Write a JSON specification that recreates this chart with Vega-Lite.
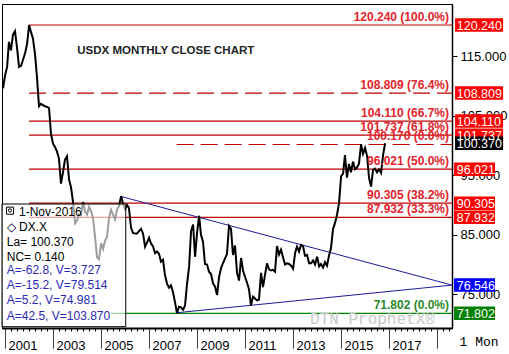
{
  "$schema": "https://vega.github.io/schema/vega-lite/v6.json",
  "width": 450,
  "height": 324,
  "autosize": {"type": "none"},
  "padding": {"left": 2, "top": 4, "right": 57, "bottom": 26},
  "background": "white",
  "config": {"view": {"stroke": "black", "strokeWidth": 1}},
  "datasets": {
    "close": [
      {"date": "2000-12-01", "close": 109.6},
      {"date": "2001-01-01", "close": 111.8}, {"date": "2001-02-01", "close": 113.2}, {"date": "2001-03-01", "close": 117.4}, {"date": "2001-04-01", "close": 116.0},
      {"date": "2001-05-01", "close": 118.6}, {"date": "2001-06-01", "close": 119.2}, {"date": "2001-07-01", "close": 116.5}, {"date": "2001-08-01", "close": 113.2},
      {"date": "2001-09-01", "close": 113.4}, {"date": "2001-10-01", "close": 114.4}, {"date": "2001-11-01", "close": 115.5}, {"date": "2001-12-01", "close": 117.0},
      {"date": "2002-01-01", "close": 120.24}, {"date": "2002-02-01", "close": 119.0}, {"date": "2002-03-01", "close": 118.0}, {"date": "2002-04-01", "close": 115.4},
      {"date": "2002-05-01", "close": 111.5}, {"date": "2002-06-01", "close": 106.6}, {"date": "2002-07-01", "close": 107.0}, {"date": "2002-08-01", "close": 106.8},
      {"date": "2002-09-01", "close": 106.6}, {"date": "2002-10-01", "close": 106.5}, {"date": "2002-11-01", "close": 106.3}, {"date": "2002-12-01", "close": 101.9},
      {"date": "2003-01-01", "close": 100.3}, {"date": "2003-02-01", "close": 99.7}, {"date": "2003-03-01", "close": 99.0}, {"date": "2003-04-01", "close": 97.8},
      {"date": "2003-05-01", "close": 93.6}, {"date": "2003-06-01", "close": 95.5}, {"date": "2003-07-01", "close": 97.6}, {"date": "2003-08-01", "close": 98.2},
      {"date": "2003-09-01", "close": 94.3}, {"date": "2003-10-01", "close": 93.0}, {"date": "2003-11-01", "close": 90.5}, {"date": "2003-12-01", "close": 86.9},
      {"date": "2004-01-01", "close": 87.4}, {"date": "2004-02-01", "close": 88.4}, {"date": "2004-03-01", "close": 88.3}, {"date": "2004-04-01", "close": 90.5},
      {"date": "2004-05-01", "close": 88.9}, {"date": "2004-06-01", "close": 88.4}, {"date": "2004-07-01", "close": 89.7}, {"date": "2004-08-01", "close": 89.0},
      {"date": "2004-09-01", "close": 87.8}, {"date": "2004-10-01", "close": 84.6}, {"date": "2004-11-01", "close": 81.2}, {"date": "2004-12-01", "close": 80.9},
      {"date": "2005-01-01", "close": 83.6}, {"date": "2005-02-01", "close": 82.6}, {"date": "2005-03-01", "close": 84.0}, {"date": "2005-04-01", "close": 84.6},
      {"date": "2005-05-01", "close": 87.8}, {"date": "2005-06-01", "close": 89.2}, {"date": "2005-07-01", "close": 88.4}, {"date": "2005-08-01", "close": 87.6},
      {"date": "2005-09-01", "close": 89.3}, {"date": "2005-10-01", "close": 89.8}, {"date": "2005-11-01", "close": 91.5}, {"date": "2005-12-01", "close": 90.2},
      {"date": "2006-01-01", "close": 89.3}, {"date": "2006-02-01", "close": 90.0}, {"date": "2006-03-01", "close": 89.5}, {"date": "2006-04-01", "close": 86.2},
      {"date": "2006-05-01", "close": 85.3}, {"date": "2006-06-01", "close": 85.2}, {"date": "2006-07-01", "close": 85.2}, {"date": "2006-08-01", "close": 85.6},
      {"date": "2006-09-01", "close": 86.0}, {"date": "2006-10-01", "close": 85.2}, {"date": "2006-11-01", "close": 83.0}, {"date": "2006-12-01", "close": 83.7},
      {"date": "2007-01-01", "close": 84.5}, {"date": "2007-02-01", "close": 83.5}, {"date": "2007-03-01", "close": 83.1}, {"date": "2007-04-01", "close": 81.9},
      {"date": "2007-05-01", "close": 82.2}, {"date": "2007-06-01", "close": 81.8}, {"date": "2007-07-01", "close": 80.5}, {"date": "2007-08-01", "close": 80.8},
      {"date": "2007-09-01", "close": 78.2}, {"date": "2007-10-01", "close": 76.8}, {"date": "2007-11-01", "close": 76.1}, {"date": "2007-12-01", "close": 76.5},
      {"date": "2008-01-01", "close": 75.3}, {"date": "2008-02-01", "close": 73.6}, {"date": "2008-03-01", "close": 71.8}, {"date": "2008-04-01", "close": 72.9},
      {"date": "2008-05-01", "close": 72.8}, {"date": "2008-06-01", "close": 72.4}, {"date": "2008-07-01", "close": 73.1}, {"date": "2008-08-01", "close": 76.8},
      {"date": "2008-09-01", "close": 79.6}, {"date": "2008-10-01", "close": 85.6}, {"date": "2008-11-01", "close": 86.7}, {"date": "2008-12-01", "close": 81.3},
      {"date": "2009-01-01", "close": 85.4}, {"date": "2009-02-01", "close": 88.2}, {"date": "2009-03-01", "close": 85.0}, {"date": "2009-04-01", "close": 83.8},
      {"date": "2009-05-01", "close": 80.1}, {"date": "2009-06-01", "close": 80.0}, {"date": "2009-07-01", "close": 78.8}, {"date": "2009-08-01", "close": 78.4},
      {"date": "2009-09-01", "close": 76.8}, {"date": "2009-10-01", "close": 76.3}, {"date": "2009-11-01", "close": 74.9}, {"date": "2009-12-01", "close": 77.9},
      {"date": "2010-01-01", "close": 79.4}, {"date": "2010-02-01", "close": 80.3}, {"date": "2010-03-01", "close": 81.0}, {"date": "2010-04-01", "close": 81.8},
      {"date": "2010-05-01", "close": 86.5}, {"date": "2010-06-01", "close": 86.0}, {"date": "2010-07-01", "close": 81.6}, {"date": "2010-08-01", "close": 83.2},
      {"date": "2010-09-01", "close": 78.6}, {"date": "2010-10-01", "close": 77.3}, {"date": "2010-11-01", "close": 81.1}, {"date": "2010-12-01", "close": 79.0},
      {"date": "2011-01-01", "close": 77.9}, {"date": "2011-02-01", "close": 76.9}, {"date": "2011-03-01", "close": 75.9}, {"date": "2011-04-01", "close": 73.1},
      {"date": "2011-05-01", "close": 74.6}, {"date": "2011-06-01", "close": 74.3}, {"date": "2011-07-01", "close": 74.0}, {"date": "2011-08-01", "close": 74.1},
      {"date": "2011-09-01", "close": 78.6}, {"date": "2011-10-01", "close": 76.2}, {"date": "2011-11-01", "close": 78.3}, {"date": "2011-12-01", "close": 80.2},
      {"date": "2012-01-01", "close": 79.2}, {"date": "2012-02-01", "close": 79.0}, {"date": "2012-03-01", "close": 79.1}, {"date": "2012-04-01", "close": 78.8},
      {"date": "2012-05-01", "close": 83.1}, {"date": "2012-06-01", "close": 81.7}, {"date": "2012-07-01", "close": 82.5}, {"date": "2012-08-01", "close": 81.2},
      {"date": "2012-09-01", "close": 80.0}, {"date": "2012-10-01", "close": 80.2}, {"date": "2012-11-01", "close": 80.1}, {"date": "2012-12-01", "close": 79.8},
      {"date": "2013-01-01", "close": 79.3}, {"date": "2013-02-01", "close": 82.0}, {"date": "2013-03-01", "close": 83.0}, {"date": "2013-04-01", "close": 82.2},
      {"date": "2013-05-01", "close": 83.3}, {"date": "2013-06-01", "close": 83.1}, {"date": "2013-07-01", "close": 81.5}, {"date": "2013-08-01", "close": 81.6},
      {"date": "2013-09-01", "close": 80.2}, {"date": "2013-10-01", "close": 80.2}, {"date": "2013-11-01", "close": 80.7}, {"date": "2013-12-01", "close": 80.0},
      {"date": "2014-01-01", "close": 81.3}, {"date": "2014-02-01", "close": 79.7}, {"date": "2014-03-01", "close": 80.1}, {"date": "2014-04-01", "close": 79.5},
      {"date": "2014-05-01", "close": 80.4}, {"date": "2014-06-01", "close": 79.8}, {"date": "2014-07-01", "close": 81.5}, {"date": "2014-08-01", "close": 82.8},
      {"date": "2014-09-01", "close": 86.0}, {"date": "2014-10-01", "close": 87.0}, {"date": "2014-11-01", "close": 88.4}, {"date": "2014-12-01", "close": 90.3},
      {"date": "2015-01-01", "close": 94.8}, {"date": "2015-02-01", "close": 95.3}, {"date": "2015-03-01", "close": 98.4}, {"date": "2015-04-01", "close": 94.6},
      {"date": "2015-05-01", "close": 96.9}, {"date": "2015-06-01", "close": 95.5}, {"date": "2015-07-01", "close": 97.3}, {"date": "2015-08-01", "close": 96.0},
      {"date": "2015-09-01", "close": 96.3}, {"date": "2015-10-01", "close": 97.0}, {"date": "2015-11-01", "close": 100.2}, {"date": "2015-12-01", "close": 98.6},
      {"date": "2016-01-01", "close": 99.6}, {"date": "2016-02-01", "close": 98.2}, {"date": "2016-03-01", "close": 94.6}, {"date": "2016-04-01", "close": 93.1},
      {"date": "2016-05-01", "close": 95.9}, {"date": "2016-06-01", "close": 96.1}, {"date": "2016-07-01", "close": 95.5}, {"date": "2016-08-01", "close": 96.0},
      {"date": "2016-09-01", "close": 95.4}, {"date": "2016-10-01", "close": 98.4}, {"date": "2016-11-01", "close": 100.37}
    ],
    "fibSolid": [
      {"from": "2002-01-01", "level": 120.24, "label": "120.240 (100.0%)"},
      {"from": "2002-01-01", "level": 104.11, "label": "104.110 (66.7%)"},
      {"from": "2002-01-01", "level": 101.737, "label": "101.737 (61.8%)"},
      {"from": "2002-01-01", "level": 96.021, "label": "96.021 (50.0%)"},
      {"from": "2002-01-01", "level": 90.305, "label": "90.305 (38.2%)"},
      {"from": "2002-01-01", "level": 87.932, "label": "87.932 (33.3%)"}
    ],
    "fibDashed": [
      {"from": "2002-01-01", "level": 108.809, "label": "108.809 (76.4%)"},
      {"from": "2008-02-25", "level": 100.17, "label": "100.170 (0.0%)"}
    ],
    "fibLow": [
      {"from": "2005-06-01", "level": 71.802, "label": "71.802 (0.0%)"}
    ],
    "trend": [
      {"from": "2005-11-10", "fromValue": 91.4, "to": "2019-08-16", "toValue": 76.546},
      {"from": "2008-02-25", "fromValue": 71.9, "to": "2019-08-16", "toValue": 76.546}
    ],
    "tags": [
      {"value": 120.24, "text": "120.240", "kind": "fib"},
      {"value": 108.809, "text": "108.809", "kind": "fib"},
      {"value": 104.11, "text": "104.110", "kind": "fib"},
      {"value": 101.737, "text": "101.737", "kind": "fib"},
      {"value": 96.021, "text": "96.021", "kind": "fib"},
      {"value": 90.305, "text": "90.305", "kind": "fib"},
      {"value": 87.932, "text": "87.932", "kind": "fib"},
      {"value": 76.546, "text": "76.546", "kind": "trend"},
      {"value": 71.802, "text": "71.802", "kind": "low"},
      {"value": 100.37, "text": "100.370", "kind": "last"}
    ]
  },
  "layer": [
    {
      "data": {"name": "close"},
      "mark": {"type": "line", "color": "black", "strokeWidth": 2, "opacity": 0},
      "encoding": {
        "x": {
          "field": "date", "type": "temporal",
          "scale": {"type": "utc", "domain": [{"year": 2000, "month": 11, "date": 15, "utc": true}, {"year": 2019, "month": 8, "date": 16, "utc": true}], "nice": false},
          "axis": {
            "title": null, "grid": false, "orient": "bottom",
            "tickCount": {"interval": "month", "step": 3},
            "tickSize": 20, "tickColor": "black",
            "tickDash": {"condition": {"test": "utcmonth(datum.value)==0 && utcyear(datum.value)%2==1", "value": [1, 0]}, "value": [3, 40]},
            "labelExpr": "utcmonth(datum.value)==0 && utcyear(datum.value)%2==1 && utcyear(datum.value) < 2019 ? utcFormat(datum.value,'%Y') : ''",
            "labelAlign": "left", "labelOffset": 3, "labelPadding": -9, "labelOverlap": false,
            "labelFontSize": 13, "labelColor": "black", "labelFont": "Liberation Sans",
            "domainColor": "black", "domainWidth": 2
          }
        },
        "y": {
          "field": "close", "type": "quantitative",
          "scale": {"domain": [69.34, 123.77], "zero": false, "nice": false},
          "axis": {
            "title": null, "orient": "right", "grid": false,
            "values": [75, 80, 85, 90, 95, 100, 105, 110, 115, 120],
            "format": ".3f", "tickSize": 5, "tickColor": "black", "labelPadding": 3,
            "labelFontSize": 13, "labelColor": "black", "labelFont": "Liberation Sans",
            "domainColor": "black", "domainWidth": 1.5
          }
        }
      }
    },
    {
      "data": {"name": "fibSolid"},
      "mark": {"type": "rule", "color": "#c00000", "strokeWidth": 1.2},
      "encoding": {
        "x": {"field": "from", "type": "temporal"},
        "x2": {"datum": {"year": 2019, "month": 8, "date": 16, "utc": true}},
        "y": {"field": "level", "type": "quantitative"}
      }
    },
    {
      "data": {"name": "fibDashed"},
      "mark": {"type": "rule", "color": "#c00000", "strokeWidth": 1.2, "strokeDash": [17, 7]},
      "encoding": {
        "x": {"field": "from", "type": "temporal"},
        "x2": {"datum": {"year": 2019, "month": 8, "date": 16, "utc": true}},
        "y": {"field": "level", "type": "quantitative"}
      }
    },
    {
      "data": {"name": "fibLow"},
      "mark": {"type": "rule", "color": "#008000", "strokeWidth": 1.2},
      "encoding": {
        "x": {"field": "from", "type": "temporal"},
        "x2": {"datum": {"year": 2019, "month": 8, "date": 16, "utc": true}},
        "y": {"field": "level", "type": "quantitative"}
      }
    },
    {
      "data": {"name": "trend"},
      "mark": {"type": "rule", "color": "#1c1c9c", "strokeWidth": 1},
      "encoding": {
        "x": {"field": "from", "type": "temporal"},
        "x2": {"field": "to"},
        "y": {"field": "fromValue", "type": "quantitative"},
        "y2": {"field": "toValue"}
      }
    },
    {
      "data": {"name": "close"},
      "mark": {"type": "line", "color": "black", "strokeWidth": 2},
      "encoding": {
        "x": {"field": "date", "type": "temporal"},
        "y": {"field": "close", "type": "quantitative"}
      }
    },
    {
      "data": {"name": "fibSolid"},
      "mark": {"type": "text", "align": "right", "baseline": "alphabetic", "dy": -4, "fontSize": 12, "fontWeight": "bold", "color": "#e3242b", "font": "Liberation Sans"},
      "encoding": {
        "x": {"datum": {"year": 2019, "month": 7, "date": 2, "utc": true}},
        "y": {"field": "level", "type": "quantitative"},
        "text": {"field": "label"}
      }
    },
    {
      "data": {"name": "fibDashed"},
      "mark": {"type": "text", "align": "right", "baseline": "alphabetic", "dy": -4, "fontSize": 12, "fontWeight": "bold", "color": "#e3242b", "font": "Liberation Sans"},
      "encoding": {
        "x": {"datum": {"year": 2019, "month": 7, "date": 2, "utc": true}},
        "y": {"field": "level", "type": "quantitative"},
        "text": {"field": "label"}
      }
    },
    {
      "data": {"name": "fibLow"},
      "mark": {"type": "text", "align": "right", "baseline": "alphabetic", "dy": -4, "fontSize": 12, "fontWeight": "bold", "color": "#2a8a2a", "font": "Liberation Sans"},
      "encoding": {
        "x": {"datum": {"year": 2019, "month": 7, "date": 2, "utc": true}},
        "y": {"field": "level", "type": "quantitative"},
        "text": {"field": "label"}
      }
    },
    {
      "data": {"values": [{}]},
      "mark": {"type": "text", "align": "left", "baseline": "middle", "fontSize": 11.5, "fontWeight": "bold", "color": "#222222", "font": "Liberation Sans", "text": "USDX MONTHLY CLOSE CHART"},
      "encoding": {
        "x": {"datum": {"year": 2004, "month": 1, "date": 5, "utc": true}},
        "y": {"datum": 115.92}
      }
    },
    {
      "data": {"values": [{}]},
      "mark": {"type": "text", "align": "left", "baseline": "alphabetic", "fontSize": 16, "color": "#c8c8c8", "font": "Liberation Mono", "text": "DTN ProphetX®"},
      "encoding": {
        "x": {"datum": {"year": 2013, "month": 9, "date": 16, "utc": true}},
        "y": {"datum": 70.0}
      }
    },
    {
      "data": {"values": [{}]},
      "mark": {"type": "rect", "fill": "white", "fillOpacity": 0.62, "stroke": "black", "strokeWidth": 1},
      "encoding": {
        "x": {"datum": {"year": 2000, "month": 11, "date": 15, "utc": true}},
        "x2": {"datum": {"year": 2006, "month": 1, "date": 11, "utc": true}},
        "y": {"datum": 90.17},
        "y2": {"datum": 69.56}
      }
    },
    {
      "data": {"values": [{}]},
      "mark": {"type": "point", "shape": "square", "size": 50, "filled": false, "stroke": "black", "strokeWidth": 1, "opacity": 1},
      "encoding": {
        "x": {"datum": {"year": 2001, "month": 3, "date": 17, "utc": true}},
        "y": {"datum": 89.05}
      }
    },
    {
      "data": {"values": [{}]},
      "mark": {"type": "point", "shape": "circle", "size": 10, "filled": false, "stroke": "black", "strokeWidth": 1, "opacity": 1},
      "encoding": {
        "x": {"datum": {"year": 2001, "month": 3, "date": 17, "utc": true}},
        "y": {"datum": 89.1}
      }
    },
    {
      "data": {"values": [{}]},
      "mark": {"type": "text", "align": "left", "baseline": "middle", "fontSize": 12, "color": "black", "font": "Liberation Sans", "text": "1-Nov-2016"},
      "encoding": {
        "x": {"datum": {"year": 2001, "month": 8, "date": 1, "utc": true}},
        "y": {"datum": 88.877}
      }
    },
    {
      "data": {"values": [{}]},
      "mark": {"type": "text", "align": "left", "baseline": "middle", "fontSize": 12, "lineHeight": 15, "color": "black", "font": "Liberation Sans", "text": ["◇  DX.X", "La= 100.370", "NC= 0.140"]},
      "encoding": {
        "x": {"datum": {"year": 2001, "month": 1, "date": 26, "utc": true}},
        "y": {"datum": 86.358}
      }
    },
    {
      "data": {"values": [{}]},
      "mark": {"type": "text", "align": "left", "baseline": "middle", "fontSize": 12, "lineHeight": 15.2, "color": "#2a2ab4", "font": "Liberation Sans", "text": ["A=-62.8, V=3.727", "A=-15.2, V=79.514", "A=5.2, V=74.981", "A=42.5, V=103.870"]},
      "encoding": {
        "x": {"datum": {"year": 2001, "month": 1, "date": 26, "utc": true}},
        "y": {"datum": 79.084}
      }
    },
    {
      "data": {"name": "tags"},
      "transform": [{"filter": "length(datum.text) == 7"}],
      "mark": {"type": "tick", "orient": "horizontal", "size": 48, "thickness": 13.5, "opacity": 1},
      "encoding": {
        "x": {"datum": {"year": 2020, "month": 10, "date": 1, "utc": true}},
        "y": {"field": "value", "type": "quantitative"},
        "color": {"field": "kind", "type": "nominal", "legend": null, "scale": {"domain": ["fib", "last", "trend", "low"], "range": ["#ff0000", "#000000", "#0000ff", "#008000"]}}
      }
    },
    {
      "data": {"name": "tags"},
      "transform": [{"filter": "length(datum.text) == 6"}],
      "mark": {"type": "tick", "orient": "horizontal", "size": 41, "thickness": 13.5, "opacity": 1},
      "encoding": {
        "x": {"datum": {"year": 2020, "month": 7, "date": 24, "utc": true}},
        "y": {"field": "value", "type": "quantitative"},
        "color": {"field": "kind", "type": "nominal", "legend": null, "scale": {"domain": ["fib", "last", "trend", "low"], "range": ["#ff0000", "#000000", "#0000ff", "#008000"]}}
      }
    },
    {
      "data": {"name": "tags"},
      "mark": {"type": "text", "align": "left", "baseline": "middle", "dy": 0.5, "fontSize": 12.5, "color": "white", "font": "Liberation Sans"},
      "encoding": {
        "x": {"datum": {"year": 2019, "month": 10, "date": 27, "utc": true}},
        "y": {"field": "value", "type": "quantitative"},
        "text": {"field": "text"}
      }
    },
    {
      "data": {"values": [{}]},
      "mark": {"type": "text", "align": "center", "baseline": "middle", "fontSize": 13, "color": "black", "font": "Liberation Mono", "text": "1 Mon"},
      "encoding": {
        "x": {"datum": {"year": 2020, "month": 10, "date": 1, "utc": true}},
        "y": {"datum": 67.04}
      }
    }
  ]
}
